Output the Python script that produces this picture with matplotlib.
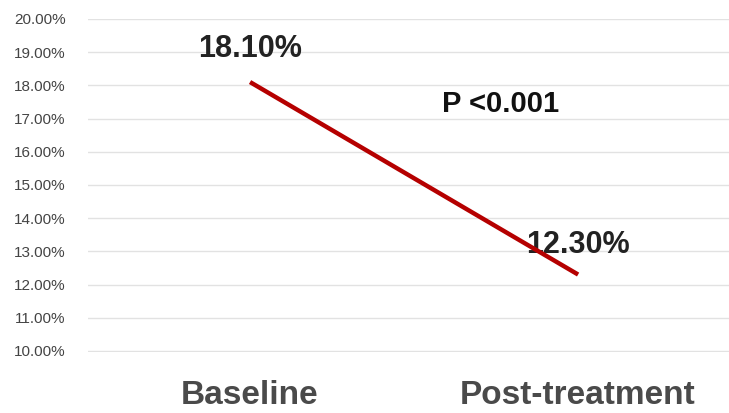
import matplotlib.pyplot as plt
from matplotlib.ticker import FuncFormatter

# Mean values at each time point (percent)
timepoints = ['Baseline', 'Post-treatment']
rates = [18.10, 12.30]
p_label = 'P <0.001'
y_ticks = [10, 11, 12, 13, 14, 15, 16, 17, 18, 19, 20]

plt.rcParams['font.family'] = ['Liberation Sans', 'DejaVu Sans']

fig = plt.figure(figsize=(7.29, 4.13), dpi=100)
ax = fig.add_axes([0.1207, 0.148, 0.8793, 0.806])

x = list(range(len(timepoints)))
ax.plot(x, rates, color='#b50000', linewidth=3.2, solid_capstyle='butt', zorder=3)

# value labels
ax.text(x[0], rates[0] + 1.0, f'{rates[0]:.2f}%', ha='center', va='center',
        fontsize=22, fontweight='bold', color='#222222')
ax.text(x[1], rates[1] + 0.9, f'{rates[1]:.2f}%', ha='center', va='center',
        fontsize=22, fontweight='bold', color='#222222', zorder=2)
ax.text(0.765, 17.45, p_label, ha='center', va='center',
        fontsize=21, fontweight='bold', color='#111111')

ax.set_xlim(-0.494, 1.46)
ax.set_ylim(9.97, 20)
ax.set_yticks(y_ticks)
ax.yaxis.set_major_formatter(FuncFormatter(lambda v, _: f'{v:.2f}%'))
ax.set_xticks(x)
ax.set_xticklabels(timepoints, fontsize=24, fontweight='bold', color='#4a4a4a')

ax.grid(axis='y', color='#e2e2e2', linewidth=1)
ax.set_axisbelow(True)
for s in ax.spines.values():
    s.set_visible(False)
ax.tick_params(axis='y', length=0, pad=16, labelsize=11, labelcolor='#444444')
ax.tick_params(axis='x', length=0, pad=20)

fig.savefig('out.png', dpi=100)
